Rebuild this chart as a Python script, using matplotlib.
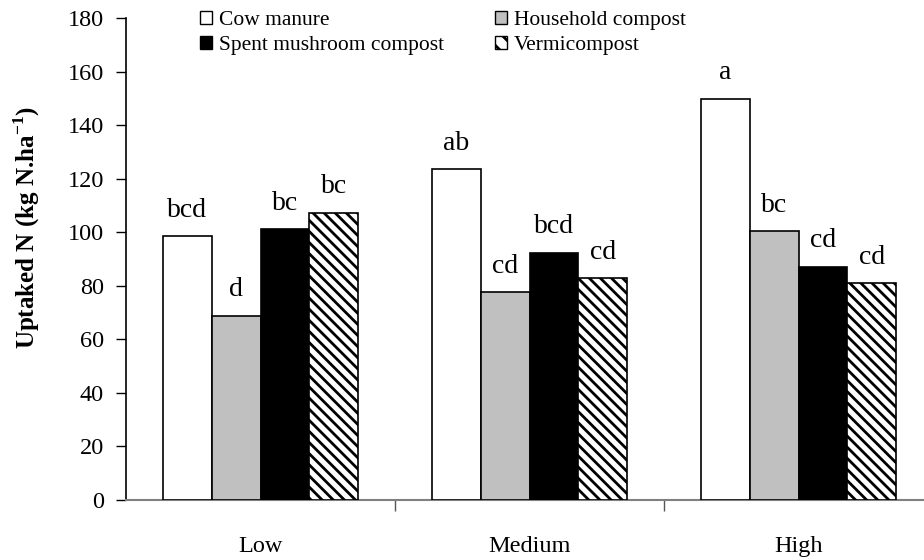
import matplotlib
matplotlib.use("Agg")
import matplotlib.pyplot as plt
import numpy as np
from matplotlib.patches import Patch

plt.rcParams['font.family'] = ['Liberation Serif', 'DejaVu Serif']
plt.rcParams['mathtext.fontset'] = 'custom'
plt.rcParams['mathtext.rm'] = 'Liberation Serif'
plt.rcParams['mathtext.bf'] = 'Liberation Serif:bold'
plt.rcParams['hatch.linewidth'] = 2.0

categories = ["Low", "Medium", "High"]
series = ["Cow manure", "Household compost", "Spent mushroom compost", "Vermicompost"]
cow = [98.5, 123.5, 149.8]
household = [68.8, 77.5, 100.4]
spent = [101.2, 92.4, 87.1]
vermi = [107.2, 82.9, 81.0]
letters_cow = ["bcd", "ab", "a"]
letters_house = ["d", "cd", "bc"]
letters_spent = ["bc", "bcd", "cd"]
letters_vermi = ["bc", "cd", "cd"]

values = [cow, household, spent, vermi]
letters = [letters_cow, letters_house, letters_spent, letters_vermi]
faces = ["white", "#c0c0c0", "black", "white"]
hatches = [None, None, None, "\\\\\\"]

fig = plt.figure(figsize=(9.24, 5.6), dpi=100)
ax = fig.add_axes([126/924, 1-500/560, (933-126)/924, (500-18)/560])

x = np.arange(len(categories))
w = 0.182
offsets = (np.arange(4) - 1.5) * w
handles = []
for i in range(4):
    bars = ax.bar(x + offsets[i], values[i], width=w, color=faces[i],
                  edgecolor="black", linewidth=1.2, hatch=hatches[i], zorder=3)
    for b, lab in zip(bars, letters[i]):
        ax.annotate(lab, (b.get_x() + b.get_width()/2, b.get_height()),
                    xytext=(0, 14), textcoords="offset points",
                    ha="center", va="baseline", fontsize=20)
    handles.append(Patch(facecolor=faces[i], edgecolor="black", linewidth=1.0,
                         hatch=("\\\\" if hatches[i] else None)))

ax.set_xlim(-0.5, 2.5)
ax.set_ylim(0, 180)
ax.set_yticks(np.arange(0, 181, 20))
ax.tick_params(axis='y', direction='out', length=7, width=1, labelsize=17.5, pad=9)
ax.set_xticks([0.5, 1.5])
ax.set_xticklabels([])
ax.set_xticks(x, minor=True)
ax.set_xticklabels(categories, minor=True, fontsize=17.5)
ax.tick_params(axis='x', which='major', direction='out', length=8, width=1, color='#555555')
ax.tick_params(axis='x', which='minor', length=0, pad=26)
ax.spines['top'].set_visible(False)
ax.spines['right'].set_visible(False)
ax.spines['bottom'].set_color('#808080')
ax.spines['bottom'].set_linewidth(1.5)
ax.spines['left'].set_linewidth(1.2)
ax.spines['left'].set_bounds(0, 180)

ax.set_ylabel(r"Uptaked N (kg N.ha$^{\mathbf{-1}}$)", fontsize=18, fontweight='bold',
              va='center', ha='center')
ax.yaxis.set_label_coords(-0.1227, 0.566)

order = [0, 2, 1, 3]
leg = fig.legend([handles[k] for k in order], [series[k] for k in order],
                 ncol=2, loc='upper left', bbox_to_anchor=(186/924, 1.0 + 3/560),
                 frameon=False, fontsize=15.5, handlelength=0.56, handleheight=0.56,
                 handletextpad=0.3, columnspacing=2.4, labelspacing=0.26,
                 borderpad=0.15)

fig.savefig("out.png", dpi=100)
